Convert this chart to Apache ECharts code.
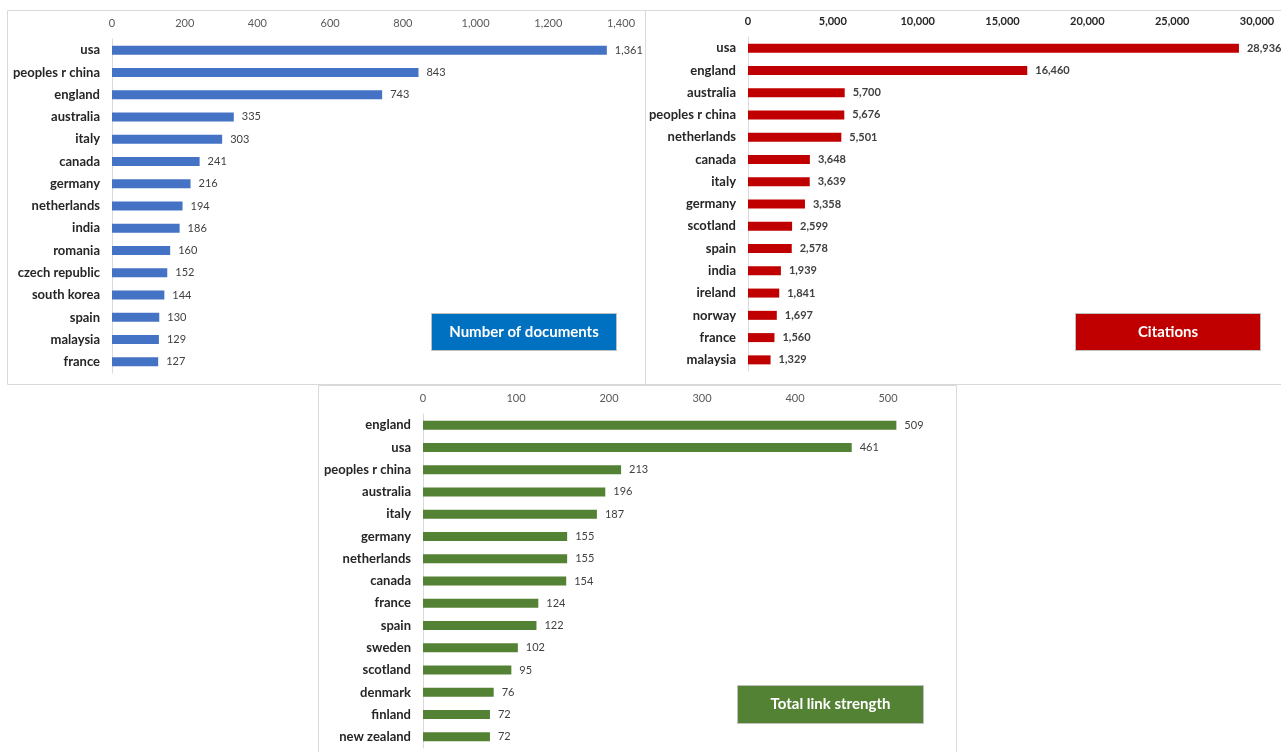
<!DOCTYPE html>
<html>
<head>
<meta charset="utf-8">
<script src="https://cdn.jsdelivr.net/npm/echarts@6/dist/echarts.min.js"></script>
<style>
  html, body { margin: 0; padding: 0; background: #fff; }
  #main { width: 1281px; height: 752px; }
</style>
</head>
<body>
<div id="main"></div>
<script>
// documents per country
const docCountries = ['usa', 'peoples r china', 'england', 'australia', 'italy', 'canada', 'germany', 'netherlands', 'india', 'romania', 'czech republic', 'south korea', 'spain', 'malaysia', 'france'];
const docValues = [1361, 843, 743, 335, 303, 241, 216, 194, 186, 160, 152, 144, 130, 129, 127];

// citations per country
const citeCountries = ['usa', 'england', 'australia', 'peoples r china', 'netherlands', 'canada', 'italy', 'germany', 'scotland', 'spain', 'india', 'ireland', 'norway', 'france', 'malaysia'];
const citeValues = [28936, 16460, 5700, 5676, 5501, 3648, 3639, 3358, 2599, 2578, 1939, 1841, 1697, 1560, 1329];

// total link strength per country
const linkCountries = ['england', 'usa', 'peoples r china', 'australia', 'italy', 'germany', 'netherlands', 'canada', 'france', 'spain', 'sweden', 'scotland', 'denmark', 'finland', 'new zealand'];
const linkValues = [509, 461, 213, 196, 187, 155, 155, 154, 124, 122, 102, 95, 76, 72, 72];

const FONT = 'Lato';
const fmt = v => Number(v).toLocaleString('en-US');

const chart = echarts.init(document.getElementById('main'));

function xAxisFor(idx, max, interval, bold) {
    return {
        type: 'value', gridIndex: idx, position: 'top', min: 0, max: max, interval: interval,
        axisLine: { show: false }, axisTick: { show: false }, splitLine: { show: false },
        axisLabel: {
            showMaxLabel: idx === 2 ? false : true,
            formatter: fmt, fontFamily: FONT, fontSize: 11, margin: 10,
            color: bold ? '#262626' : '#595959', fontWeight: bold ? 'bold' : 'normal'
        }
    };
}

function yAxisFor(idx, cats) {
    return {
        type: 'category', gridIndex: idx, data: cats, inverse: true,
        axisLine: { show: true, lineStyle: { color: '#d9d9d9' } },
        axisTick: { show: false },
        axisLabel: { fontFamily: FONT, fontSize: 13, fontWeight: 'bold', color: '#262626', margin: 12 }
    };
}

function barFor(idx, values, color, bold) {
    return {
        type: 'bar', xAxisIndex: idx, yAxisIndex: idx, data: values, barWidth: 9,
        itemStyle: { color: color },
        label: {
            show: true, position: 'right', distance: 8, formatter: p => fmt(p.value),
            fontFamily: FONT, fontSize: 11, color: '#404040', fontWeight: bold ? 'bold' : 'normal'
        }
    };
}

function box(x, y, w, h, color, text) {
    return {
        type: 'group', left: x, top: y,
        children: [
            { type: 'rect', shape: { x: 0, y: 0, width: w, height: h }, style: { fill: color, stroke: '#bfbfbf', lineWidth: 1 } },
            { type: 'text', x: w / 2, y: h / 2, style: { text: text, fill: '#fff', font: 'bold 15px ' + FONT, align: 'center', verticalAlign: 'middle' } }
        ]
    };
}

const option = {
    animation: false,
    grid: [
        { left: 112, top: 39, width: 509, height: 334 },
        { left: 748, top: 37, width: 509, height: 334 },
        { left: 423, top: 414, width: 511.5, height: 334 }
    ],
    xAxis: [
        xAxisFor(0, 1400, 200, false),
        xAxisFor(1, 30000, 5000, true),
        xAxisFor(2, 550, 100, false)
    ],
    yAxis: [
        yAxisFor(0, docCountries),
        yAxisFor(1, citeCountries),
        yAxisFor(2, linkCountries)
    ],
    series: [
        barFor(0, docValues, '#4472C4', false),
        barFor(1, citeValues, '#C00000', true),
        barFor(2, linkValues, '#548235', false)
    ],
    graphic: [
        // panel frames
        { type: 'rect', shape: { x: 7.5, y: 10.5, width: 638, height: 374 }, style: { fill: 'none', stroke: '#d9d9d9', lineWidth: 1 }, z: -1 },
        { type: 'rect', shape: { x: 645.5, y: 10.5, width: 636, height: 374 }, style: { fill: 'none', stroke: '#d9d9d9', lineWidth: 1 }, z: -1 },
        { type: 'rect', shape: { x: 318.5, y: 385.5, width: 638, height: 370 }, style: { fill: 'none', stroke: '#d9d9d9', lineWidth: 1 }, z: -1 },
        box(431, 313, 185, 37, '#0070C0', 'Number of documents'),
        box(1075, 313, 185, 37, '#C00000', 'Citations'),
        box(737, 685, 186, 38, '#548235', 'Total link strength')
    ]
};

chart.setOption(option);
</script>
</body>
</html>
